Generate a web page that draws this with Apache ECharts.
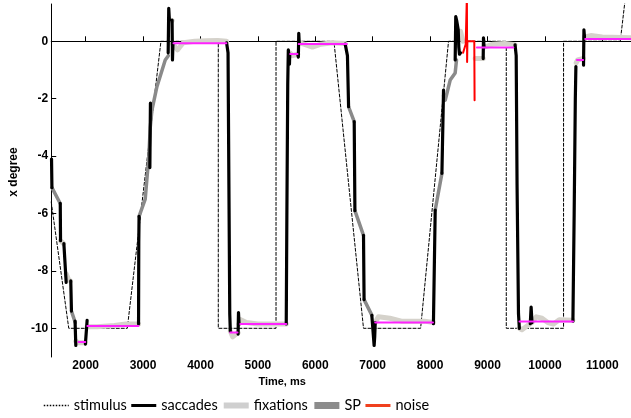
<!DOCTYPE html>
<html lang="en">
<head>
<meta charset="UTF-8">
<script src="https://cdn.jsdelivr.net/npm/echarts/dist/echarts.min.js"></script>
<style>
    html, body { margin: 0; padding: 0; background: #fff; }
    #chart { width: 631px; height: 418px; }
</style>
</head>
<body>
<div id="chart"></div>
<script>
    const xTicks = [2000, 3000, 4000, 5000, 6000, 7000, 8000, 9000, 10000, 11000];
    const yTicks = [-10, -8, -6, -4, -2, 0];

    // target position (ms, degree)
    const stimulus = [[1400,-5.6],[1705,-10],[2725,-10],[3311,0],[4310,0],[4310,-10],[5316,-10],[5316,0],
        [6325,0],[6840,-10],[7835,-10],[8321,0],[9327,0],[9327,-10],[10325,-10],[10325,0],[11313,0],[11500,3.2]];

    // eye movement pieces, one list per segment
    const saccades = [
        [[1405,-4.1],[1412,-5.1]],
        [[1557,-5.65],[1562,-6.95]],
        [[1620,-7.05],[1660,-8.4]],
        [[1740,-8.35],[1752,-9.4]],
        [[1815,-9.75],[1828,-10.6]],
        [[1995,-10.55],[2010,-10.5],[2025,-9.72]],
        [[2921,-9.85],[2925,-7],[2930,-6.1]],
        [[3118,-4.4],[3128,-2.15]],
        [[3437,-0.4],[3447,1.15],[3458,0.75]],
        [[3505,0.74],[3512,-0.65],[3520,-0.1]],
        [[4455,-0.05],[4480,-0.4],[4495,-5],[4510,-9.5],[4520,-10.1]],
        [[4655,-10.2],[4662,-9.45],[4672,-9.85]],
        [[5494,-9.85],[5505,-6],[5520,-1.5],[5530,-0.3],[5550,-0.8],[5555,-0.45]],
        [[5695,-0.45],[5705,-0.55],[5712,0.28],[5720,-0.05]],
        [[6521,-0.1],[6560,-0.5],[6580,-2.28]],
        [[6678,-2.8],[6690,-5.9]],
        [[6840,-6.76],[6850,-9.0]],
        [[6985,-9.55],[7025,-10.6],[7035,-10.3],[7044,-9.8]],
        [[8058,-9.84],[8089,-5.88]],
        [[8206,-4.6],[8234,-1.7]],
        [[8437,-0.65],[8447,0.86],[8465,0.7],[8490,0.4],[8500,-0.2],[8512,-0.45],[8530,-0.4]],
        [[8925,-0.6],[8930,0.12],[8940,-0.2]],
        [[9480,-0.12],[9500,-0.5],[9515,-5],[9540,-9.5],[9555,-10.0]],
        [[9745,-9.84],[9760,-9.26],[9775,-9.8]],
        [[10488,-9.75],[10510,-6],[10530,-2],[10540,-0.88]],
        [[10673,-0.83],[10680,0.4],[10690,0.15]]
    ];

    const pursuit = [
        [[1412,-5.1],[1557,-5.65]],
        [[1752,-9.4],[1818,-9.8]],
        [[2930,-6.1],[3037,-5.5],[3100,-4.0],[3125,-3.0],[3154,-2.4],[3241,-1.58],[3386,-0.65],[3440,-0.5]],
        [[6580,-2.28],[6678,-2.8]],
        [[6690,-5.9],[6840,-6.76]],
        [[6850,-9.0],[6987,-9.55]],
        [[8089,-5.88],[8206,-4.6]],
        [[8234,-1.9],[8264,-2.05],[8350,-1.35],[8437,-1.1],[8460,-0.65]]
    ];

    const fixations = [
        [[1562,-6.95],[1575,-7.0],[1615,-7.05]],
        [[1660,-8.1],[1700,-8.3],[1735,-8.35]],
        [[1828,-10.45],[1870,-10.5],[1995,-10.5]],
        [[2025,-9.95],[2200,-9.95],[2500,-9.9],[2700,-9.85],[2921,-9.85]],
        [[3458,0.75],[3505,0.72]],
        [[3520,-0.1],[3560,-0.2],[3600,-0.3],[3640,-0.2],[3700,-0.05],[3900,0],[4100,0.02],[4300,0.03],[4455,0]],
        [[4520,-10.1],[4560,-10.3],[4620,-10.2],[4655,-10.15]],
        [[4672,-9.85],[4700,-9.7],[4800,-9.8],[5000,-9.85],[5300,-9.85],[5494,-9.85]],
        [[5555,-0.4],[5600,-0.5],[5695,-0.45]],
        [[5720,-0.05],[5800,-0.1],[5950,-0.2],[6100,-0.1],[6300,-0.05],[6521,-0.08]],
        [[7044,-9.8],[7100,-9.6],[7300,-9.65],[7500,-9.75],[7700,-9.75],[7900,-9.75],[8058,-9.8]],
        [[8530,0.35],[8570,0.0]],
        [[8786,-0.6],[8925,-0.6]],
        [[8940,-0.2],[9100,-0.1],[9300,-0.08],[9480,-0.12]],
        [[9555,-10.0],[9600,-10.05],[9700,-9.9],[9745,-9.84]],
        [[9775,-9.8],[9850,-9.6],[9950,-9.65],[10050,-9.8],[10150,-9.85],[10250,-9.7],[10488,-9.72]],
        [[10545,-0.75],[10570,-0.65],[10673,-0.6]],
        [[10690,0.15],[10800,0.2],[11000,0.15],[11500,0.12]]
    ];

    const noise = [[8575,-0.4],[8620,-0.1],[8641,-0.1],[8641,1.6],[8645,-0.72],[8650,0],[8770,0],[8775,-2.05]];

    // mean position of each fixation
    const fixMeans = [
        [[1876,-10.48],[1992,-10.48]],
        [[2030,-9.92],[2920,-9.92]],
        [[3530,-0.07],[4450,-0.07]],
        [[4518,-10.15],[4645,-10.15]],
        [[4693,-9.85],[5494,-9.85]],
        [[5563,-0.44],[5690,-0.44]],
        [[5710,-0.09],[6550,-0.09]],
        [[7044,-9.8],[8050,-9.8]],
        [[8815,-0.22],[9450,-0.22]],
        [[9558,-9.76],[10490,-9.76]],
        [[10558,-0.65],[10665,-0.65]],
        [[10702,0.08],[11500,0.08]]
    ];

    function joinSegments(segs) {
        const out = [];
        segs.forEach((seg, i) => {
            if (i > 0) out.push([seg[0][0], '-']);
            seg.forEach(p => out.push(p));
        });
        return out;
    }

    function line(name, data, color, width, type) {
        return {
            name: name,
            type: 'line',
            data: data,
            symbol: 'none',
            showSymbol: false,
            connectNulls: false,
            clip: true,
            lineStyle: { color: color, width: width, type: type || 'solid', cap: 'round', join: 'round' },
            itemStyle: { color: color }
        };
    }

    const labelFont = { fontFamily: 'Liberation Sans', fontWeight: 'bold', fontSize: 12, color: '#000' };

    const chart = echarts.init(document.getElementById('chart'));
    chart.setOption({
        animation: false,
        grid: { left: 51, right: 0, top: 4, bottom: 61 },
        legend: {
            left: 38,
            top: 393,
            itemWidth: 25,
            itemHeight: 14,
            itemGap: 3,
            itemStyle: { opacity: 0 },
            textStyle: { fontFamily: 'Lato', fontSize: 14.5, color: '#000' },
            data: [
                { name: 'stimulus', lineStyle: { width: 1.5, type: 'dotted', color: '#000', cap: 'butt' } },
                { name: 'saccades', lineStyle: { width: 3, cap: 'butt' } },
                { name: 'fixations', lineStyle: { width: 6, color: '#cfcfcf', cap: 'butt' } },
                { name: 'SP', lineStyle: { width: 7, color: '#8c8c8c', cap: 'butt' } },
                { name: 'noise', lineStyle: { width: 3, color: '#f0401e', cap: 'butt' } }
            ]
        },
        xAxis: {
            type: 'value',
            min: 1400,
            max: 11500,
            name: 'Time, ms',
            nameLocation: 'middle',
            nameGap: 15,
            nameTextStyle: { fontFamily: 'Liberation Sans', fontWeight: 'bold', fontSize: 11, color: '#000', padding: [0, 118, 0, 0] },
            axisLine: { lineStyle: { color: '#000', width: 1 } },
            axisTick: { inside: true, length: 5, customValues: xTicks, lineStyle: { color: '#000' } },
            axisLabel: Object.assign({ customValues: xTicks, margin: 3, formatter: v => String(v) }, labelFont),
            splitLine: { show: false }
        },
        yAxis: {
            type: 'value',
            min: -11,
            max: 1.3,
            name: 'x degree',
            nameLocation: 'middle',
            nameGap: 29,
            nameTextStyle: { fontFamily: 'Liberation Sans', fontWeight: 'bold', fontSize: 12, color: '#000', padding: [0, 0, 0, 17] },
            axisLine: { show: true, lineStyle: { color: '#000', width: 1 } },
            axisTick: { show: true, inside: true, length: 5, customValues: yTicks, lineStyle: { color: '#000' } },
            axisLabel: Object.assign({ customValues: yTicks, margin: 3, formatter: v => String(v) }, labelFont),
            splitLine: { show: false }
        },
        series: [
            line('stimulus', stimulus, '#000', 1, [3, 2]),
            line('fixations', joinSegments(fixations), '#d5d2cb', 5),
            line('SP', joinSegments(pursuit), '#8a8a8a', 3.5),
            line('saccades', joinSegments(saccades), '#000', 3.2),
            line('noise', noise, '#ff0000', 2),
            line('fixation mean', joinSegments(fixMeans), '#ff22ff', 2)
        ]
    });
</script>
</body>
</html>
